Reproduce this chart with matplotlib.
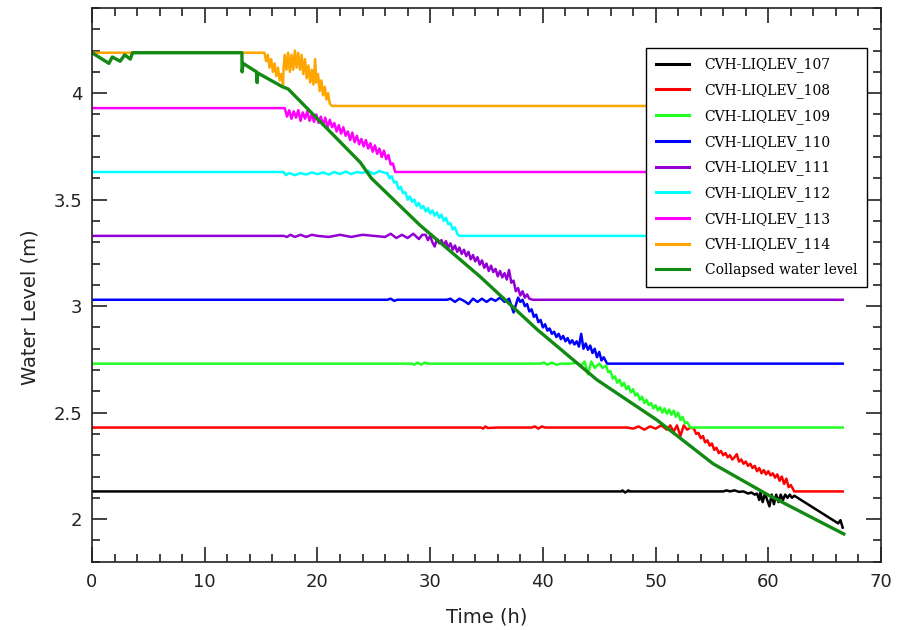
import matplotlib
matplotlib.use('Agg')
import matplotlib.pyplot as plt
from matplotlib.ticker import MultipleLocator, FormatStrFormatter

plt.rcParams['font.family'] = ['DejaVu Sans']

# 液位计读数, 每点为 (时间 h, 液位 m)
lev_107 = [(0, 2.13), (47.0, 2.13), (47.05, 2.135), (47.3, 2.125), (47.6, 2.135), (47.65, 2.13),
           (56.0, 2.13), (56.3, 2.135), (56.6, 2.13), (57.0, 2.135), (57.4, 2.128), (57.8, 2.13),
           (58.2, 2.12), (58.5, 2.125), (58.8, 2.115), (59.0, 2.12), (59.2, 2.09), (59.3, 2.125),
           (59.5, 2.08), (59.7, 2.12), (59.9, 2.09), (60.1, 2.06), (60.3, 2.115), (60.5, 2.07),
           (60.7, 2.115), (60.9, 2.08), (61.1, 2.115), (61.3, 2.09), (61.5, 2.115), (61.7, 2.10),
           (61.9, 2.115), (62.1, 2.10), (62.3, 2.11), (62.6, 2.10), (62.9, 2.09), (63.2, 2.08),
           (63.5, 2.07), (63.8, 2.06), (64.1, 2.05), (64.4, 2.04), (64.7, 2.03), (65.0, 2.02),
           (65.3, 2.01), (65.6, 2.00), (65.9, 1.99), (66.2, 1.98), (66.4, 1.995), (66.6, 1.96)]

lev_108 = [(0, 2.43), (34.5, 2.43), (34.7, 2.425), (34.9, 2.435), (35.1, 2.428), (36.0, 2.43),
           (39.0, 2.43), (39.3, 2.435), (39.6, 2.425), (39.9, 2.435), (40.2, 2.43), (47.5, 2.43),
           (48.0, 2.425), (48.5, 2.435), (49.0, 2.42), (49.5, 2.435), (50.0, 2.425), (50.5, 2.44),
           (51.0, 2.42), (51.3, 2.44), (51.6, 2.41), (51.9, 2.44), (52.2, 2.39), (52.5, 2.44),
           (52.8, 2.42), (53.1, 2.43), (53.4, 2.425), (53.6, 2.40), (53.8, 2.405), (54.0, 2.38),
           (54.2, 2.39), (54.4, 2.36), (54.6, 2.37), (54.8, 2.345), (55.0, 2.355), (55.2, 2.325),
           (55.4, 2.335), (55.6, 2.31), (55.8, 2.32), (56.0, 2.30), (56.2, 2.31), (56.4, 2.29),
           (56.6, 2.30), (56.8, 2.28), (57.0, 2.29), (57.2, 2.305), (57.4, 2.27), (57.6, 2.28),
           (57.8, 2.26), (58.0, 2.27), (58.2, 2.25), (58.4, 2.26), (58.6, 2.24), (58.8, 2.25),
           (59.0, 2.225), (59.2, 2.24), (59.4, 2.215), (59.6, 2.23), (59.8, 2.21), (60.0, 2.225),
           (60.2, 2.205), (60.4, 2.215), (60.6, 2.195), (60.8, 2.21), (61.0, 2.18), (61.2, 2.20),
           (61.4, 2.165), (61.6, 2.19), (61.8, 2.15), (62.0, 2.16), (62.3, 2.13), (66.6, 2.13)]

lev_109 = [(0, 2.73), (28.4, 2.73), (28.6, 2.725), (28.9, 2.735), (29.2, 2.725), (29.5, 2.735),
           (29.8, 2.73), (39.8, 2.73), (40.1, 2.735), (40.4, 2.725), (40.8, 2.735), (41.2, 2.725),
           (41.6, 2.73), (42.5, 2.73), (43.0, 2.735), (43.4, 2.72), (43.7, 2.74), (44.0, 2.68),
           (44.3, 2.74), (44.6, 2.71), (45.0, 2.73), (45.3, 2.71), (45.6, 2.72), (45.8, 2.69),
           (46.0, 2.695), (46.2, 2.66), (46.4, 2.67), (46.6, 2.64), (46.8, 2.655), (47.0, 2.625),
           (47.2, 2.64), (47.4, 2.61), (47.6, 2.625), (47.8, 2.595), (48.0, 2.61), (48.2, 2.58),
           (48.4, 2.59), (48.6, 2.56), (48.8, 2.575), (49.0, 2.545), (49.2, 2.56), (49.4, 2.535),
           (49.6, 2.545), (49.8, 2.52), (50.0, 2.535), (50.2, 2.51), (50.4, 2.525), (50.6, 2.50),
           (50.8, 2.52), (51.0, 2.495), (51.2, 2.515), (51.4, 2.49), (51.6, 2.51), (51.8, 2.48),
           (52.0, 2.50), (52.2, 2.465), (52.4, 2.48), (52.6, 2.45), (52.8, 2.455), (53.1, 2.43),
           (66.6, 2.43)]

lev_110 = [(0, 3.03), (26.2, 3.03), (26.5, 3.035), (26.8, 3.025), (27.1, 3.03), (31.5, 3.03),
           (31.8, 3.035), (32.2, 3.02), (32.6, 3.035), (33.0, 3.025), (33.4, 3.01), (33.8, 3.035),
           (34.2, 3.02), (34.6, 3.035), (35.0, 3.02), (35.4, 3.035), (35.8, 3.025), (36.2, 3.04),
           (36.6, 3.02), (37.0, 3.035), (37.4, 2.97), (37.8, 3.04), (38.0, 3.02), (38.2, 3.03),
           (38.4, 3.00), (38.6, 3.01), (38.8, 2.975), (39.0, 2.985), (39.2, 2.95), (39.4, 2.96),
           (39.6, 2.925), (39.8, 2.935), (40.0, 2.90), (40.2, 2.915), (40.4, 2.885), (40.6, 2.895),
           (40.8, 2.87), (41.0, 2.88), (41.2, 2.855), (41.4, 2.87), (41.6, 2.845), (41.8, 2.86),
           (42.0, 2.835), (42.2, 2.85), (42.4, 2.825), (42.6, 2.84), (42.8, 2.82), (43.0, 2.835),
           (43.2, 2.81), (43.4, 2.87), (43.6, 2.80), (43.8, 2.825), (44.0, 2.795), (44.2, 2.815),
           (44.4, 2.78), (44.6, 2.80), (44.8, 2.76), (45.0, 2.785), (45.2, 2.745), (45.4, 2.76),
           (45.7, 2.73), (66.6, 2.73)]

lev_111 = [(0, 3.33), (17.0, 3.33), (17.3, 3.325), (17.6, 3.335), (18.0, 3.325), (18.5, 3.335),
           (19.0, 3.325), (19.5, 3.335), (20.0, 3.33), (21.0, 3.325), (22.0, 3.335), (23.0, 3.325),
           (24.0, 3.335), (25.0, 3.33), (26.0, 3.325), (26.5, 3.34), (27.0, 3.32), (27.5, 3.335),
           (28.0, 3.32), (28.5, 3.34), (29.0, 3.315), (29.3, 3.335), (29.6, 3.335), (29.8, 3.31),
           (30.0, 3.33), (30.2, 3.30), (30.4, 3.28), (30.6, 3.315), (30.8, 3.295), (31.0, 3.31),
           (31.2, 3.285), (31.4, 3.305), (31.6, 3.275), (31.8, 3.295), (32.0, 3.265), (32.2, 3.285),
           (32.4, 3.255), (32.6, 3.275), (32.8, 3.245), (33.0, 3.265), (33.2, 3.235), (33.4, 3.255),
           (33.6, 3.22), (33.8, 3.24), (34.0, 3.21), (34.2, 3.23), (34.4, 3.195), (34.6, 3.215),
           (34.8, 3.18), (35.0, 3.20), (35.2, 3.165), (35.4, 3.19), (35.6, 3.16), (35.8, 3.175),
           (36.0, 3.14), (36.2, 3.165), (36.4, 3.135), (36.6, 3.155), (36.8, 3.125), (37.0, 3.17),
           (37.2, 3.11), (37.4, 3.12), (37.6, 3.07), (37.8, 3.085), (38.0, 3.05), (38.2, 3.07),
           (38.4, 3.04), (38.6, 3.055), (38.8, 3.035), (39.1, 3.03), (66.6, 3.03)]

lev_112 = [(0, 3.63), (17.0, 3.63), (17.2, 3.615), (17.5, 3.625), (18.0, 3.615), (18.5, 3.625),
           (19.0, 3.618), (19.5, 3.628), (20.0, 3.62), (20.5, 3.628), (21.0, 3.618), (21.5, 3.63),
           (22.0, 3.62), (22.5, 3.632), (23.0, 3.62), (23.5, 3.63), (24.0, 3.625), (24.5, 3.635),
           (25.0, 3.62), (25.5, 3.635), (26.0, 3.625), (26.2, 3.625), (26.4, 3.60), (26.6, 3.61),
           (26.8, 3.58), (27.0, 3.585), (27.2, 3.55), (27.4, 3.56), (27.6, 3.53), (27.8, 3.535),
           (28.0, 3.50), (28.2, 3.515), (28.4, 3.49), (28.6, 3.50), (28.8, 3.47), (29.0, 3.485),
           (29.2, 3.46), (29.4, 3.47), (29.6, 3.445), (29.8, 3.46), (30.0, 3.435), (30.2, 3.45),
           (30.4, 3.425), (30.6, 3.44), (30.8, 3.415), (31.0, 3.43), (31.2, 3.40), (31.4, 3.415),
           (31.6, 3.385), (31.8, 3.39), (32.0, 3.36), (32.2, 3.37), (32.4, 3.34), (32.6, 3.33),
           (66.6, 3.33)]

lev_113 = [(0, 3.93), (17.1, 3.93), (17.3, 3.89), (17.5, 3.92), (17.7, 3.88), (17.9, 3.915),
           (18.1, 3.885), (18.3, 3.92), (18.5, 3.87), (18.7, 3.91), (18.9, 3.88), (19.1, 3.915),
           (19.3, 3.87), (19.5, 3.90), (19.7, 3.865), (19.9, 3.90), (20.1, 3.86), (20.3, 3.89),
           (20.5, 3.85), (20.7, 3.885), (20.9, 3.84), (21.1, 3.875), (21.3, 3.84), (21.5, 3.86),
           (21.7, 3.82), (21.9, 3.85), (22.1, 3.81), (22.3, 3.84), (22.5, 3.80), (22.7, 3.82),
           (22.9, 3.78), (23.1, 3.815), (23.3, 3.77), (23.5, 3.80), (23.7, 3.76), (23.9, 3.785),
           (24.1, 3.75), (24.3, 3.78), (24.5, 3.74), (24.7, 3.765), (24.9, 3.725), (25.1, 3.755),
           (25.3, 3.715), (25.5, 3.74), (25.7, 3.70), (25.9, 3.73), (26.1, 3.69), (26.3, 3.71),
           (26.5, 3.665), (26.7, 3.67), (26.9, 3.63), (66.6, 3.63)]

lev_114 = [(0, 4.19), (15.3, 4.19), (15.45, 4.15), (15.6, 4.18), (15.75, 4.12), (15.9, 4.16),
           (16.05, 4.10), (16.2, 4.14), (16.35, 4.08), (16.5, 4.12), (16.65, 4.06), (16.8, 4.09),
           (16.95, 4.04), (17.0, 4.12), (17.1, 4.18), (17.25, 4.11), (17.4, 4.19), (17.55, 4.10),
           (17.7, 4.18), (17.85, 4.11), (18.0, 4.20), (18.15, 4.12), (18.3, 4.19), (18.45, 4.11),
           (18.6, 4.18), (18.75, 4.09), (18.9, 4.16), (19.05, 4.07), (19.2, 4.13), (19.35, 4.05),
           (19.5, 4.11), (19.65, 4.04), (19.8, 4.16), (19.9, 4.05), (20.05, 4.09), (20.2, 4.01),
           (20.35, 4.06), (20.5, 3.99), (20.65, 4.03), (20.8, 3.97), (20.95, 4.00), (21.1, 3.95),
           (21.3, 3.94), (66.6, 3.94)]

# 坍塌水位
collapsed = [(0, 4.19), (1.5, 4.14), (1.8, 4.17), (2.5, 4.15), (2.9, 4.18), (3.4, 4.16), (3.6, 4.19),
             (13.3, 4.19), (13.32, 4.10), (13.4, 4.14), (14.6, 4.10), (14.65, 4.05), (14.7, 4.095),
             (16.9, 4.03), (17.4, 4.02), (23.8, 3.675), (24.8, 3.60), (29.1, 3.38), (34.4, 3.14),
             (39.5, 2.89), (44.8, 2.654), (50.1, 2.466), (55.1, 2.26), (60.0, 2.113), (66.7, 1.93)]

names = ['CVH-LIQLEV_107', 'CVH-LIQLEV_108', 'CVH-LIQLEV_109', 'CVH-LIQLEV_110',
         'CVH-LIQLEV_111', 'CVH-LIQLEV_112', 'CVH-LIQLEV_113', 'CVH-LIQLEV_114']
levels = [lev_107, lev_108, lev_109, lev_110, lev_111, lev_112, lev_113, lev_114]
colors = ['black', '#ff0000', '#22ff22', '#0000ff', '#9400d3', '#00ffff', '#ff00ff', '#ffa500']

fig = plt.figure(figsize=(9.08, 6.30), dpi=100)
ax = fig.add_axes([0.1013, 0.1084, 0.8690, 0.8789])

for name, pts, c in zip(names, levels, colors):
    t, v = zip(*pts)
    ax.plot(t, v, color=c, lw=1.8, label=name)
t, v = zip(*collapsed)
ax.plot(t, v, color='#138a13', lw=2.4, label='Collapsed water level')

ax.set_xlim(0, 70)
ax.set_ylim(1.8, 4.4)
ax.xaxis.set_major_locator(MultipleLocator(10))
ax.xaxis.set_minor_locator(MultipleLocator(2))
ax.yaxis.set_major_locator(MultipleLocator(0.5))
ax.yaxis.set_minor_locator(MultipleLocator(0.1))
ax.yaxis.set_major_formatter(FormatStrFormatter('%g'))

ax.tick_params(which='both', direction='in', top=True, right=True, width=1.2, colors='#222222')
ax.tick_params(which='major', length=10.5, labelsize=13, pad=8)
ax.tick_params(axis='y', which='major', pad=7)
ax.tick_params(which='minor', length=5.5)
for s in ax.spines.values():
    s.set_linewidth(1.2)
    s.set_color('#222222')

ax.set_xlabel('Time (h)', fontsize=14, color='#222222', labelpad=12)
ax.set_ylabel('Water Level (m)', fontsize=14, color='#222222')
ax.yaxis.set_label_coords(-0.066, 0.46)

leg = ax.legend(loc='upper right', bbox_to_anchor=(0.982, 0.928), borderaxespad=0,
                fancybox=False, edgecolor='black', framealpha=1,
                prop={'family': 'DejaVu Serif', 'size': 10},
                handlelength=2.4, handletextpad=1.1, labelspacing=0.78,
                borderpad=0.7)
leg.get_frame().set_linewidth(1.0)
for line in leg.get_lines():
    line.set_linewidth(2.2)

fig.savefig('out.png', dpi=100)
